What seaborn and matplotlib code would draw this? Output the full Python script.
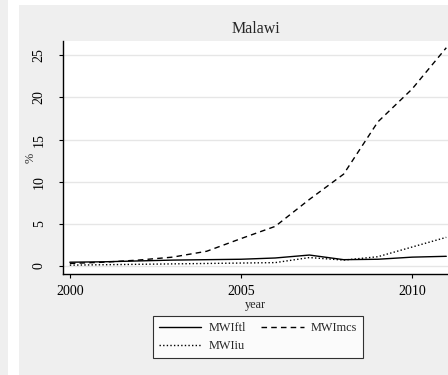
import numpy as np
import pandas as pd
import matplotlib
matplotlib.use("Agg")
import matplotlib.pyplot as plt
import seaborn as sns
from matplotlib.patches import Rectangle

years = list(range(2000, 2012))
mwi_ftl = [0.45, 0.5, 0.6, 0.7, 0.75, 0.8, 0.95, 1.3, 0.75, 0.8, 1.05, 1.15]
mwi_mcs = [0.3, 0.45, 0.7, 1.05, 1.75, 3.25, 4.7, 7.9, 10.9, 17.1, 21.0, 25.9]
mwi_iu = [0.1, 0.15, 0.2, 0.25, 0.3, 0.35, 0.4, 1.0, 0.7, 1.1, 2.25, 3.4]
series_names = ["MWIftl", "MWImcs", "MWIiu"]
yticks = [0, 5, 10, 15, 20, 25]
xticks = [2000, 2005, 2010]

df = pd.concat([
    pd.DataFrame({"year": years, "value": v, "series": n})
    for n, v in zip(series_names, [mwi_ftl, mwi_mcs, mwi_iu])
])

sns.set_theme(style="white")
plt.rcParams["font.family"] = ["Liberation Serif", "DejaVu Serif"]

W, H = 448, 375
fig = plt.figure(figsize=(W / 100, H / 100), dpi=100)
fig.patch.set_facecolor("white")
bg = "#efefef"
fig.patches.append(Rectangle((0, 0), 8 / W, 1, transform=fig.transFigure,
                             facecolor=bg, edgecolor="none", zorder=-10))
fig.patches.append(Rectangle((19 / W, 0), 1 - 19 / W, 1 - 5 / H, transform=fig.transFigure,
                             facecolor=bg, edgecolor="none", zorder=-10))

ax = fig.add_axes([63 / W, (H - 274) / H, (W - 63) / W, (274 - 41) / H])
ax.set_facecolor("white")

sns.lineplot(data=df, x="year", y="value", style="series", color="black",
             dashes={"MWIftl": "", "MWImcs": (4, 3), "MWIiu": (1, 1.6)},
             linewidth=1.0, ax=ax, legend=True)

ax.set_xlim(1999.8, 2011.05)
ax.set_ylim(-0.95, 26.7)
ax.set_xticks(xticks)
ax.set_yticks(yticks)
ax.set_xticklabels([str(x) for x in xticks], fontsize=10)
ax.set_yticklabels([str(y) for y in yticks], fontsize=10, rotation=90, va="center")
ax.tick_params(axis="x", direction="out", length=3, width=0.8, pad=5, colors="black", bottom=True)
ax.tick_params(axis="y", direction="out", length=3, width=0.8, pad=9.5, colors="black", left=True)
ax.grid(axis="y", color="#e6e6e6", linewidth=1.0)
ax.grid(axis="x", visible=False)
for s in ["top", "right"]:
    ax.spines[s].set_visible(False)
for s in ["left", "bottom"]:
    ax.spines[s].set_color("black")
    ax.spines[s].set_linewidth(1.0)

ax.set_xlabel("year", fontsize=8.8, labelpad=0.5)
ax.set_ylabel("%", fontsize=8.8)
ax.yaxis.set_label_coords((37 - 63) / (W - 63), 0.5)
ax.set_title("Malawi", fontsize=11.5, pad=6)

handles, labels = ax.get_legend_handles_labels()
hmap = dict(zip(labels, handles))
order = ["MWIftl", "MWIiu", "MWImcs"]
ax.get_legend().remove()
leg = fig.legend([hmap[k] for k in order], order, ncol=2, loc="center",
                 bbox_to_anchor=(258 / W, 1 - 337 / H), fontsize=8.8,
                 frameon=True, fancybox=False, edgecolor="black", facecolor="white",
                 handlelength=3.5, handletextpad=0.6, columnspacing=1.2,
                 borderpad=0.5, labelspacing=0.5)
leg.get_frame().set_linewidth(0.8)

fig.savefig("out.png", dpi=100)
